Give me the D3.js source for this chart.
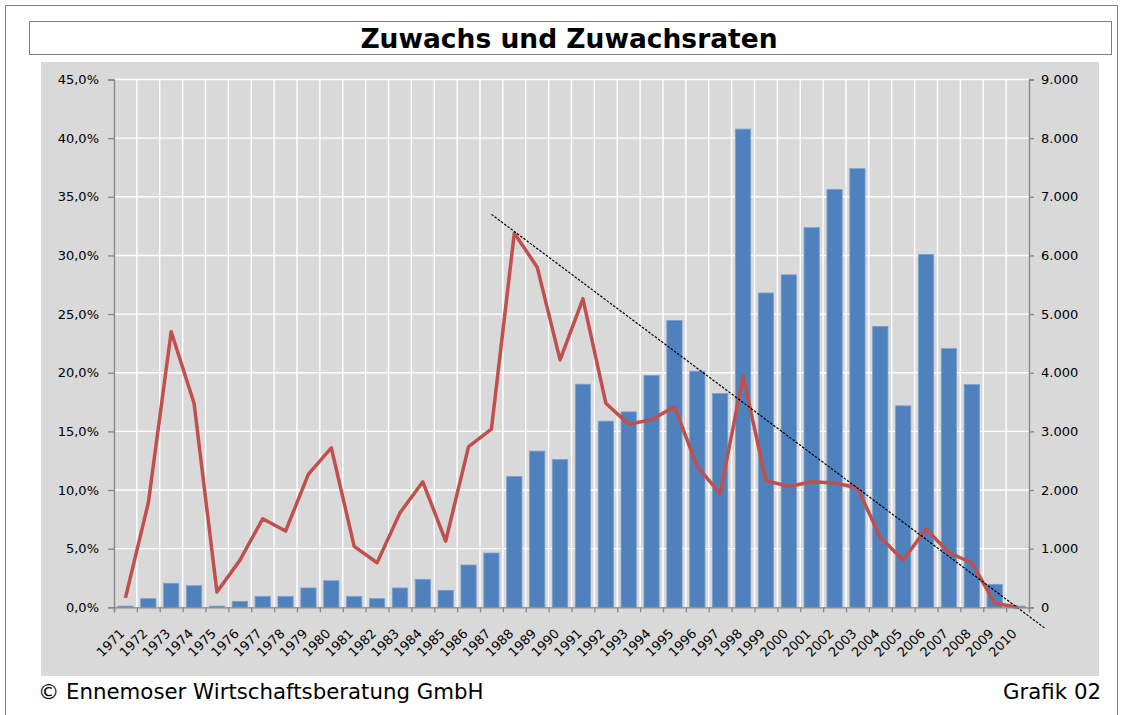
<!DOCTYPE html>
<html>
<head>
<meta charset="utf-8">
<script src="https://cdn.jsdelivr.net/npm/d3@7"></script>
<style>
    body { margin: 0; background: #fff; }
    svg { display: block; font-family: 'DejaVu Sans', Verdana, sans-serif; }
</style>
</head>
<body>
<div class="svg-target"></div>
<script>
// Categories
const years = ['1971','1972','1973','1974','1975','1976','1977','1978','1979','1980',
    '1981','1982','1983','1984','1985','1986','1987','1988','1989','1990',
    '1991','1992','1993','1994','1995','1996','1997','1998','1999','2000',
    '2001','2002','2003','2004','2005','2006','2007','2008','2009','2010'];

// Zuwachs (bars, right axis)
const zuwachs = [20, 147, 409, 368, 20, 102, 187, 187, 329, 453,
    187, 147, 329, 477, 290, 721, 925, 2232, 2663, 2521,
    3804, 3174, 3332, 3952, 4891, 4026, 3646, 8154, 5360, 5669,
    6474, 7126, 7480, 4789, 3435, 6017, 4411, 3799, 392, 20];

// Zuwachsraten (line, left axis)
const raten = [0.008, 0.089, 0.235, 0.174, 0.013, 0.040, 0.0755, 0.065, 0.1135, 0.136,
    0.052, 0.038, 0.0805, 0.107, 0.0565, 0.137, 0.152, 0.319, 0.290, 0.211,
    0.263, 0.174, 0.156, 0.160, 0.171, 0.120, 0.097, 0.197, 0.108, 0.103,
    0.107, 0.106, 0.102, 0.0596, 0.0403, 0.0667, 0.0465, 0.038, 0.0035, 0.0];

// Trend line end points (year position, rate)
const trend = [{pos: 16, v: 0.335}, {pos: 40.18, v: -0.0176}];

// Tick values
const leftTicks = [0, 0.05, 0.10, 0.15, 0.20, 0.25, 0.30, 0.35, 0.40, 0.45];
const rightTicks = [0, 1000, 2000, 3000, 4000, 5000, 6000, 7000, 8000, 9000];

const w = 1123;
const h = 715;
const plot = {l: 114, r: 1029, t: 79.5, b: 607.3};

const de = d3.formatLocale({decimal: ',', thousands: '.', grouping: [3], currency: ['', ' €']});

const renderChart = () => {
    const svg = d3.select('.svg-target')
        .html('')
        .append('svg')
        .attr('width', w)
        .attr('height', h);

    // Frames
    svg.append('rect')
        .attr('x', 5.5).attr('y', 5.5)
        .attr('width', 1112).attr('height', 720)
        .attr('fill', '#fff')
        .attr('stroke', '#7f7f7f');
    svg.append('rect')
        .attr('x', 29.5).attr('y', 21.5)
        .attr('width', 1082).attr('height', 33)
        .attr('fill', '#fff')
        .attr('stroke', '#7f7f7f');
    svg.append('text')
        .attr('x', 569).attr('y', 48)
        .attr('text-anchor', 'middle')
        .attr('font-size', 26.5)
        .attr('font-weight', 'bold')
        .text('Zuwachs und Zuwachsraten');

    // Chart area
    svg.append('rect')
        .attr('x', 41).attr('y', 62)
        .attr('width', 1058).attr('height', 614)
        .attr('fill', '#d9d9d9');

    // Scales
    const xScale = d3.scaleBand()
        .domain(years)
        .range([plot.l, plot.r])
        .paddingInner(1 / 3)
        .paddingOuter(1 / 6);
    const xCenter = d => xScale(d) + xScale.bandwidth() / 2;
    const xPos = d3.scaleLinear()
        .domain([0, years.length])
        .range([plot.l, plot.r]);

    const yLeft = d3.scaleLinear()
        .domain([0, 0.45])
        .range([plot.b, plot.t]);
    const yRight = d3.scaleLinear()
        .domain([0, 9000])
        .range([plot.b, plot.t]);

    // Grid
    const grid = svg.append('g')
        .attr('stroke', '#fff')
        .attr('stroke-width', 1.4);
    grid.selectAll('.hg')
        .data(leftTicks.slice(1))
        .join('line')
        .attr('x1', plot.l).attr('x2', plot.r)
        .attr('y1', d => yLeft(d)).attr('y2', d => yLeft(d));
    grid.selectAll('.vg')
        .data(d3.range(1, years.length))
        .join('line')
        .attr('x1', d => xPos(d)).attr('x2', d => xPos(d))
        .attr('y1', plot.t).attr('y2', plot.b);

    // Bars
    svg.append('g')
        .selectAll('rect')
        .data(zuwachs)
        .join('rect')
        .attr('x', (d, i) => xScale(years[i]))
        .attr('y', d => yRight(d))
        .attr('width', xScale.bandwidth())
        .attr('height', d => plot.b - yRight(d))
        .attr('fill', '#4f81bd')
        .attr('stroke', '#7a9fd0')
        .attr('stroke-width', 0.8);

    // Line
    const line = d3.line()
        .x((d, i) => xCenter(years[i]))
        .y(d => yLeft(d));
    svg.append('path')
        .datum(raten)
        .attr('d', line)
        .attr('fill', 'none')
        .attr('stroke', '#c0504d')
        .attr('stroke-width', 3.5)
        .attr('stroke-linejoin', 'round');

    // Trend
    svg.append('path')
        .datum(trend)
        .attr('d', d3.line().x(d => xPos(d.pos + 0.5)).y(d => yLeft(d.v)))
        .attr('fill', 'none')
        .attr('stroke', '#000')
        .attr('stroke-width', 1.2)
        .attr('stroke-dasharray', '2.5,1.5');

    // Axes
    const axisColor = '#868686';
    const leftAxis = svg.append('g')
        .attr('transform', `translate(${plot.l}, 0)`)
        .call(d3.axisLeft(yLeft).tickValues(leftTicks).tickSize(6).tickPadding(9).tickFormat(de.format('.1%')));
    const rightAxis = svg.append('g')
        .attr('transform', `translate(${plot.r}, 0)`)
        .call(d3.axisRight(yRight).tickValues(rightTicks).tickSize(5).tickPadding(7).tickFormat(de.format(',.0f')));
    const xAxis = svg.append('g')
        .attr('transform', `translate(0, ${plot.b})`)
        .call(d3.axisBottom(xPos).tickValues(d3.range(0, years.length + 1)).tickSize(5).tickFormat(''));

    [leftAxis, rightAxis, xAxis].forEach(a => {
        a.select('.domain').attr('stroke', axisColor).attr('stroke-width', 1.3);
        a.selectAll('.tick line').attr('stroke', axisColor).attr('stroke-width', 1.3);
        a.selectAll('text')
            .attr('font-family', "'DejaVu Sans', Verdana, sans-serif")
            .attr('font-size', 13)
            .attr('fill', '#000');
    });

    // Year labels
    svg.append('g')
        .selectAll('text')
        .data(years)
        .join('text')
        .attr('transform', d => `translate(${xCenter(d)}, ${plot.b + 27}) rotate(-45)`)
        .attr('text-anchor', 'end')
        .attr('font-size', 13)
        .text(d => d);

    // Footer
    svg.append('text')
        .attr('x', 38).attr('y', 699)
        .attr('font-size', 21.3)
        .text('© Ennemoser Wirtschaftsberatung GmbH');
    svg.append('text')
        .attr('x', 1101).attr('y', 699)
        .attr('text-anchor', 'end')
        .attr('font-size', 21.3)
        .text('Grafik 02');
};

renderChart();
</script>
</body>
</html>
